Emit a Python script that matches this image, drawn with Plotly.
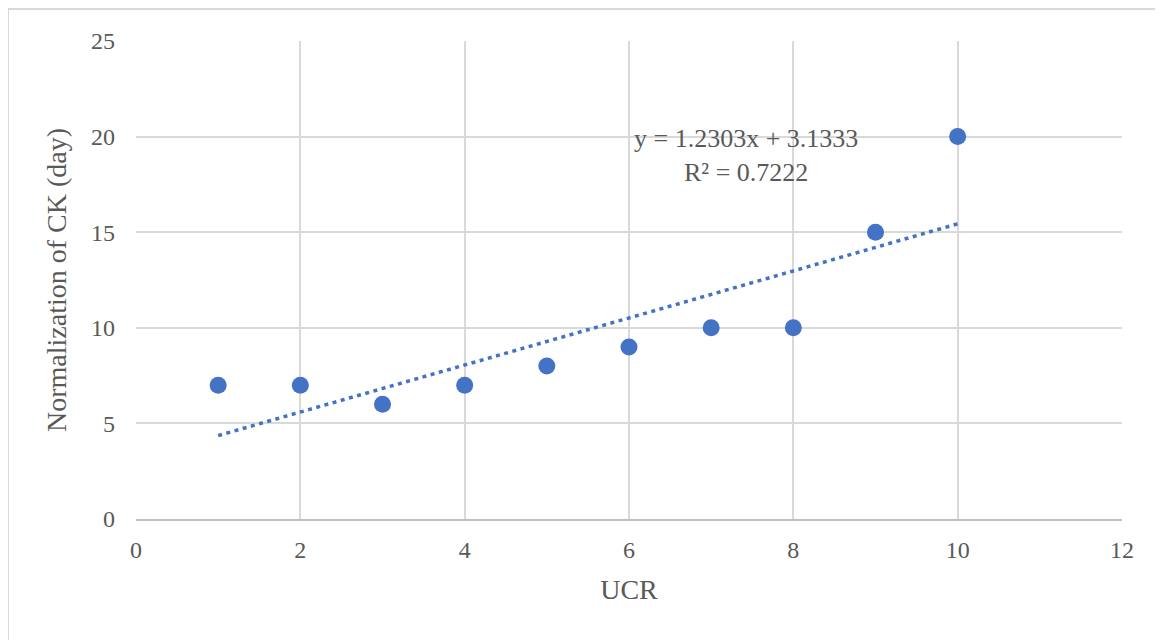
import numpy as np
import plotly.graph_objects as go

ucr = [1, 2, 3, 4, 5, 6, 7, 8, 9, 10]
ck_norm = [7, 7, 6, 7, 8, 9, 10, 10, 15, 20]
x_ticks = [0, 2, 4, 6, 8, 10, 12]
y_ticks = [0, 5, 10, 15, 20, 25]

slope, intercept = np.polyfit(ucr, ck_norm, 1)
pred = [slope * v + intercept for v in ucr]
ss_res = sum((a - b) ** 2 for a, b in zip(ck_norm, pred))
mean_y = sum(ck_norm) / len(ck_norm)
ss_tot = sum((a - mean_y) ** 2 for a in ck_norm)
r2 = 1 - ss_res / ss_tot
trend_x = [min(ucr), max(ucr)]
trend_y = [slope * v + intercept for v in trend_x]

BLUE = "#4472C4"
TXT = "#595959"
FONT = "Liberation Serif"

fig = go.Figure()
fig.add_trace(go.Scatter(x=trend_x, y=trend_y, mode="lines",
                         line=dict(color=BLUE, width=3.5, dash="4px,4.5px"),
                         showlegend=False, hoverinfo="skip"))
fig.add_trace(go.Scatter(x=ucr, y=ck_norm, mode="markers",
                         marker=dict(color=BLUE, size=17),
                         showlegend=False))

fig.add_annotation(x=7.42, y=19.0, xref="x", yref="y",
                   text=f"y = {slope:.4f}x + {intercept:.4f}<br>R² = {r2:.4f}",
                   showarrow=False, align="center",
                   font=dict(family=FONT, size=26, color=TXT))

# chart border (top and left visible)
fig.add_shape(type="rect", xref="paper", yref="paper",
              x0=-0.1298, x1=1.06, y0=-0.28, y1=1.067,
              line=dict(color="#D9D9D9", width=2), fillcolor="rgba(0,0,0,0)",
              layer="below")

fig.update_layout(
    width=1155, height=632,
    margin=dict(l=128, r=41, t=33, b=121),
    paper_bgcolor="white", plot_bgcolor="white",
    font=dict(family=FONT, color=TXT),
    xaxis=dict(range=[0, 12], tickvals=x_ticks, showgrid=True,
               gridcolor="#D9D9D9", gridwidth=1.5, zeroline=False,
               showline=True, linecolor="#BFBFBF", linewidth=2,
               ticks="", ticklabelstandoff=8,
               tickfont=dict(family=FONT, size=24, color=TXT),
               title=dict(text="UCR", font=dict(family=FONT, size=28, color=TXT),
                          standoff=18)),
    yaxis=dict(range=[0, 25], tickvals=y_ticks, showgrid=True,
               gridcolor="#D9D9D9", gridwidth=1.5, zeroline=False,
               showline=False, ticks="", ticklabelstandoff=20,
               tickfont=dict(family=FONT, size=24, color=TXT),
               title=dict(text="Normalization of CK (day)",
                          font=dict(family=FONT, size=28, color=TXT),
                          standoff=16)),
)

fig.write_html("out.html")
